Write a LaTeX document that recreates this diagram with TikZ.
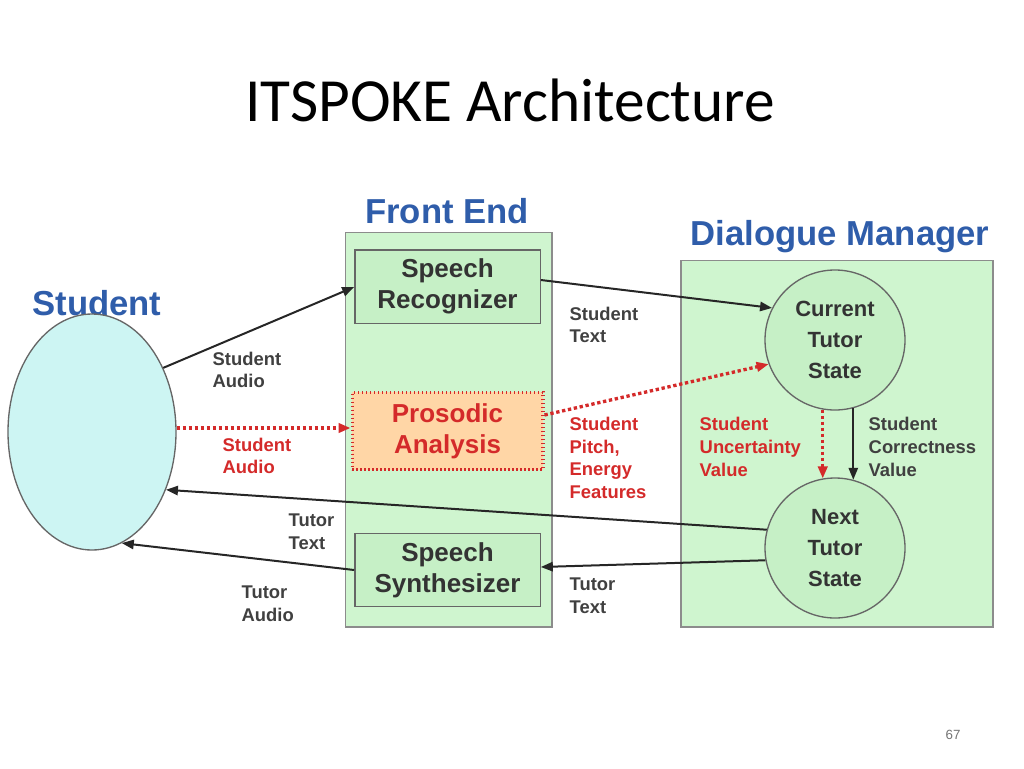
\documentclass[tikz,border=0pt]{standalone}
\usepackage{fontspec}
\setmainfont{Liberation Sans}
\newfontfamily\titlefont{Carlito}
\usetikzlibrary{arrows.meta,shapes.geometric}
\definecolor{hdr}{HTML}{2F5DAA}
\definecolor{lgreen}{HTML}{CFF5CF}
\definecolor{bgreen}{HTML}{C6F0C6}
\definecolor{dred}{HTML}{D42A2A}
\definecolor{lor}{HTML}{FFD6A6}
\definecolor{lcyan}{HTML}{CDF5F3}
\begin{document}
\begin{tikzpicture}[x=0.75pt,y=-0.75pt,
  hdr/.style={font=\bfseries\fontsize{26}{28}\selectfont,text=hdr},
  box/.style={draw=black!60,line width=1pt,fill=bgreen,minimum width=139pt,minimum height=55pt,align=center,font=\bfseries\fontsize{19.5}{23}\selectfont,text=black!80},
  circ/.style={circle,draw=black!60,line width=1pt,fill=bgreen,minimum size=105pt,align=center,font=\bfseries\fontsize{16.5}{23}\selectfont,text=black!80},
  lab/.style={align=left,font=\bfseries\fontsize{13.8}{17}\selectfont,text=black!75},
  rlab/.style={lab,text=dred},
  arr/.style={-{Triangle[length=9pt,width=7pt]},line width=1.5pt,black!85},
  rarr/.style={-{Triangle[length=9pt,width=7pt]},line width=2.5pt,dred,dotted}]
\useasboundingbox (0,0) rectangle (1024,768);
\node[font=\titlefont\fontsize{46}{50}\selectfont] (title) at (510,100) {ITSPOKE Architecture};
\node[font=\fontsize{10}{12}\selectfont,text=black!55] (pg) at (953,735) {67};
% containers
\node[draw=black!45,line width=1pt,fill=lgreen,minimum width=155pt,minimum height=296pt,inner sep=0] (fe) at (448.5,429.5) {};
\node[draw=black!45,line width=1pt,fill=lgreen,minimum width=234pt,minimum height=275pt,inner sep=0] (dm) at (837,443.5) {};
\node[hdr] (feh) at (447,211) {Front End};
\node[hdr] (dmh) at (840,237) {Dialogue Manager};
\node[hdr] (sth) at (97,303) {Student};
% boxes
\node[box] (sr) at (447.5,286.5) {Speech\\Recognizer};
\node[box,draw=dred,dotted,line width=2.5pt,fill=lor,text=dred,minimum width=143pt,minimum height=58pt] (pa) at (447.5,431) {Prosodic\\Analysis};
\node[box] (ss) at (447.5,570) {Speech\\Synthesizer};
\node[circ] (cts) at (835,340) {Current\\Tutor\\State};
\node[circ] (nts) at (835,548) {Next\\Tutor\\State};
\node[ellipse,draw=black!60,line width=1pt,fill=lcyan,minimum width=126pt,minimum height=177pt] (st) at (92,432) {};
% arrows
\draw[arr] (st.42) -- (sr.west|-0,287);
\draw[arr] (sr.east|-0,280) -- (cts.153);
\draw[rarr] (st.east|-0,428) -- (pa.west|-0,428);
\draw[rarr] (pa.east|-0,415) -- (cts.200);
\draw[rarr] (cts.260) -- (nts.100);
\draw[arr] (cts.285) -- (nts.75);
\draw[arr] (nts.165) -- (st.322);
\draw[arr] (nts.190) -- (ss.east|-0,567);
\draw[arr] (ss.west|-0,570) -- (st.285);
% labels
\node[lab,anchor=west] (l1) at (208,370) {Student\\Audio};
\node[rlab,anchor=west] (l2) at (218,456) {Student\\Audio};
\node[lab,anchor=west] (l3) at (565,325) {Student\\Text};
\node[rlab,anchor=west] (l4) at (565,458) {Student\\Pitch,\\Energy\\Features};
\node[rlab,anchor=west] (l5) at (695,447) {Student\\Uncertainty\\Value};
\node[lab,anchor=west] (l6) at (864,447) {Student\\Correctness\\Value};
\node[lab,anchor=west] (l7) at (284,532) {Tutor\\Text};
\node[lab,anchor=west] (l8) at (237,604) {Tutor\\Audio};
\node[lab,anchor=west] (l9) at (565,596) {Tutor\\Text};
\end{tikzpicture}
\end{document}
